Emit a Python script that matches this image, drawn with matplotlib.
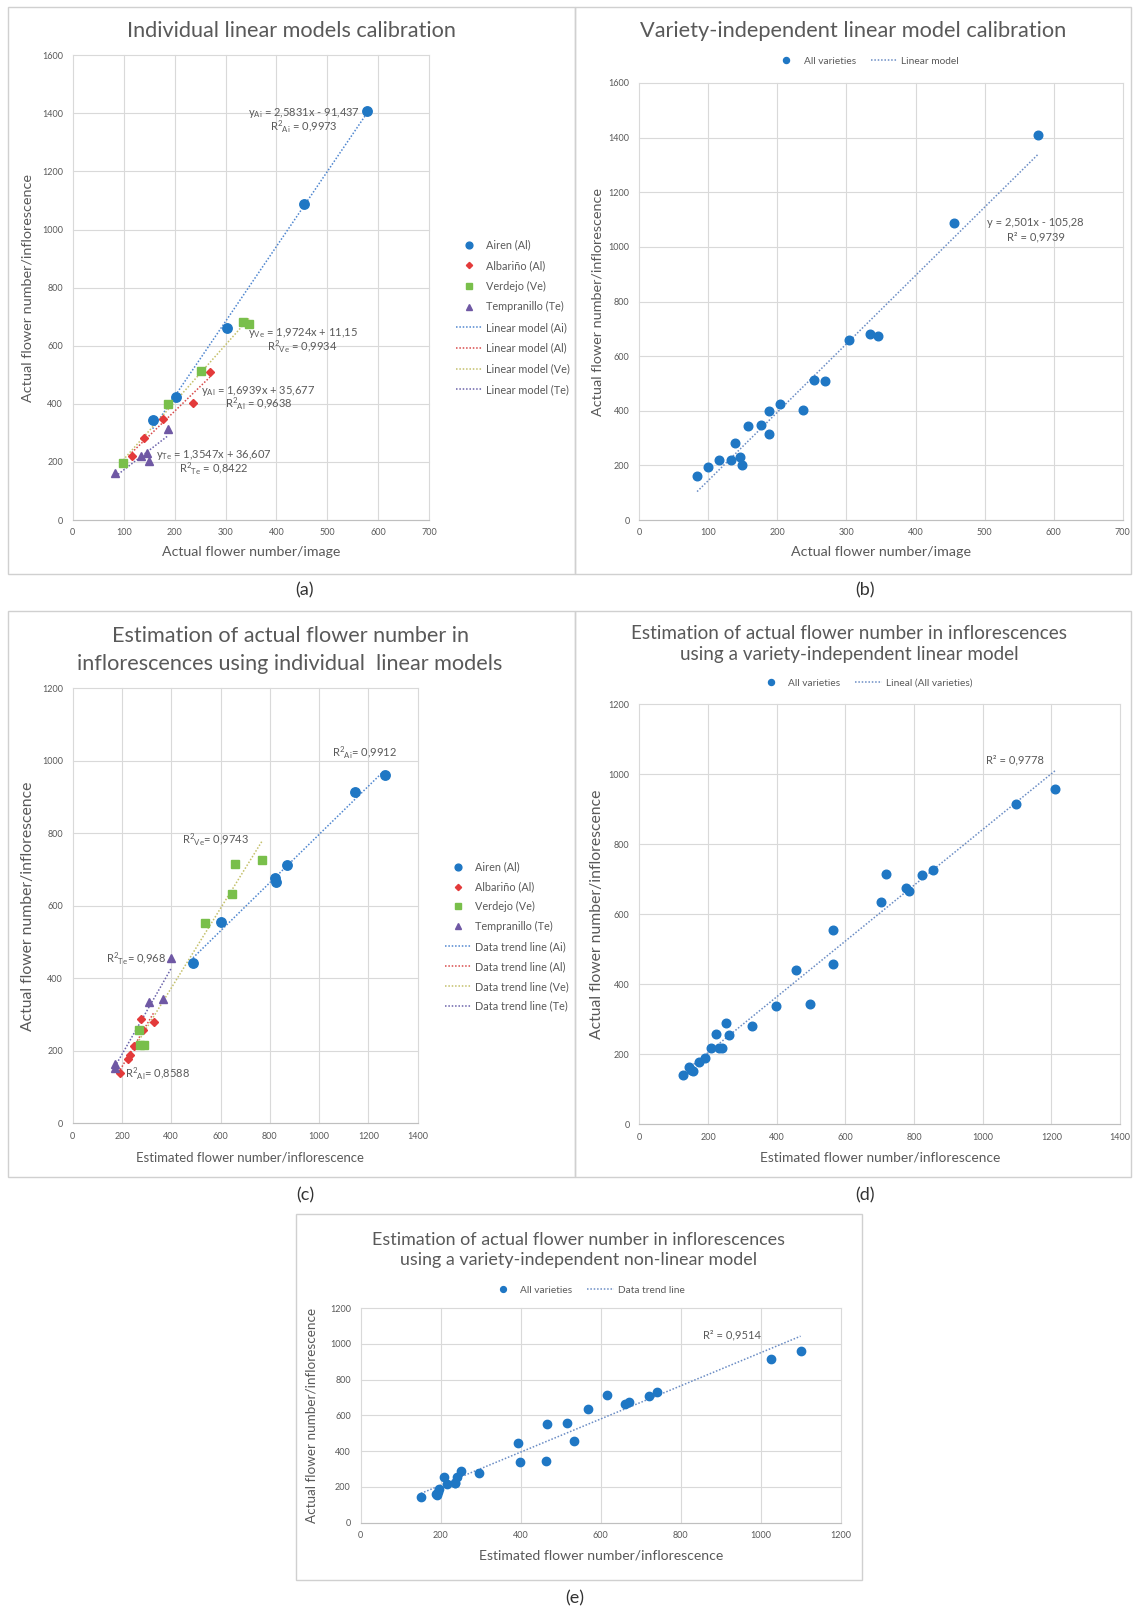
import numpy as np
import matplotlib
matplotlib.use('Agg')
import matplotlib.pyplot as plt
from matplotlib.patches import Rectangle

plt.rcParams['font.family'] = ['Lato', 'DejaVu Sans']
plt.rcParams['mathtext.fontset'] = 'custom'
plt.rcParams['mathtext.rm'] = 'Lato'
plt.rcParams['mathtext.it'] = 'Lato:italic'
plt.rcParams['mathtext.bf'] = 'Lato:bold'

# ---------------- data: (a)/(b) calibration ----------------
cal_airen_x = [157, 203.5, 303.6, 455, 578]
cal_airen_y = [344, 423, 660, 1088, 1409]
cal_albarino_x = [115.8, 139.3, 176.6, 236.8, 269.5]
cal_albarino_y = [221.5, 283.4, 348.9, 401.7, 509.5]
cal_verdejo_x = [98.8, 187.8, 252.5, 334.3, 346]
cal_verdejo_y = [195, 399.4, 514, 681.7, 674.8]
cal_tempranillo_x = [83.7, 133.5, 145.2, 149.2, 187.8]
cal_tempranillo_y = [160.7, 221.5, 229.5, 203, 314.4]

# linear models (slope, intercept) as printed on the chart
model_airen = (2.5831, -91.437)
model_albarino = (1.6939, 35.677)
model_verdejo = (1.9724, 11.15)
model_tempranillo = (1.3547, 36.607)
model_all = (2.501, -105.28)

# ---------------- data: (c) individual models estimation ----------------
est_airen_x = [488, 601, 820, 827, 869, 1146, 1267.6]
est_airen_y = [441, 555, 676, 667, 712, 915, 960]
est_albarino_x = [193, 223, 232, 247, 277, 286.5, 328]
est_albarino_y = [138, 176.6, 188.5, 213, 287, 257.5, 278.6]
est_verdejo_x = [269, 273, 289, 538, 646, 658, 767.6]
est_verdejo_y = [256.6, 216, 216, 553.6, 633.6, 714.5, 726.4]
est_tempranillo_x = [171.6, 173, 309.5, 365, 398.6]
est_tempranillo_y = [163.7, 151.7, 334.7, 342, 455]

# ---------------- data: (d) variety-independent linear model ----------------
lin_x = [128, 145.6, 150.5, 157, 173, 190, 208, 223, 233, 241, 253, 261, 327,
         399, 457, 497, 563, 565, 704, 717.5, 777, 785.4, 824, 855, 1096, 1212]
lin_y = [141, 164.6, 155, 153, 177, 190, 217, 257, 218, 218, 288, 256, 280,
         339, 440.5, 342.5, 554, 457, 634, 714.6, 675.5, 666, 712.7, 725, 914, 957]

# ---------------- data: (e) variety-independent non-linear model ----------------
nl_x = [151, 188, 190, 193.4, 195.4, 209, 215, 235, 237, 241, 250.6, 296, 392.7,
        397.6, 462.7, 464.7, 515, 532.8, 569.3, 615, 661.5, 669.4, 720.6, 741.4, 1025, 1099]
nl_y = [141.6, 160, 154.6, 169.6, 188.2, 257, 216, 220, 223.6, 257, 288.5, 279.5, 443.5,
        337, 344.7, 551.5, 557, 458, 633.5, 715.5, 665, 674.5, 710, 728.5, 915, 959.6]

r2_est = {'Ai': '0,9912', 'Ve': '0,9743', 'Te': '0,968', 'Al': '0,8588'}

# ---------------- styling ----------------
W, H = 1134, 1609
TXT = '#595959'
GRID = '#d9d9d9'
BLUE = '#1f77c4'
RED = '#e33a3a'
GREEN = '#79bf4b'
PURPLE = '#6f58a4'
L_BLUE = '#4f86cf'
L_RED = '#d84a4a'
L_GREEN = '#c4c06a'
L_PURPLE = '#6a62aa'
DOT = (0, (1, 1.2))

fig = plt.figure(figsize=(W / 100, H / 100), dpi=100)
renderer = fig.canvas.get_renderer()


def F(x, y):
    return (x / W, 1 - y / H)


def add_ax(x0, y0, x1, y1):
    return fig.add_axes([x0 / W, 1 - y1 / H, (x1 - x0) / W, (y1 - y0) / H])


def fit(t, target, vertical=False):
    bb = t.get_window_extent(renderer)
    cur = bb.height if vertical else bb.width
    t.set_fontsize(t.get_fontsize() * target / cur)


def style(ax, xmax, xstep, ymax, ystep):
    ax.set_xlim(0, xmax)
    ax.set_ylim(0, ymax)
    ax.set_xticks(np.arange(0, xmax + 1, xstep))
    ax.set_yticks(np.arange(0, ymax + 1, ystep))
    ax.grid(True, color=GRID, lw=0.8)
    ax.set_axisbelow(True)
    for s in ['top', 'right', 'left']:
        ax.spines[s].set_visible(False)
    ax.spines['bottom'].set_color('#bfbfbf')
    ax.spines['bottom'].set_linewidth(0.8)
    ax.tick_params(axis='x', length=0, labelsize=6.5, labelcolor=TXT, pad=6)
    ax.tick_params(axis='y', length=0, labelsize=6.5, labelcolor=TXT, pad=7)
    for ln in ax.get_xgridlines() + ax.get_ygridlines():
        ln.set_clip_on(False)


def labels(ax, xl, xpos, yl, ypos, xw, yw):
    t = ax.set_xlabel(xl, color=TXT, va='center', ha='center', fontsize=10)
    ax.xaxis.set_label_coords(*F(*xpos), transform=fig.transFigure)
    fit(t, xw)
    t2 = ax.set_ylabel(yl, color=TXT, va='center', ha='center', fontsize=10)
    ax.yaxis.set_label_coords(*F(*ypos), transform=fig.transFigure)
    fit(t2, yw, vertical=True)


def title(x, y, s, width, ls=1.25):
    t = fig.text(*F(x, y), s, ha='center', va='center', color=TXT, fontsize=14,
                 linespacing=ls)
    fit(t, width)
    return t


def trend(ax, xs, model, color, label):
    xr = np.array([min(xs), max(xs)])
    ax.plot(xr, model[0] * xr + model[1], ls=DOT, lw=1.1, color=color, label=label, zorder=2)


def fitted(ax, xs, ys, color, label):
    k, b = np.polyfit(xs, ys, 1)
    trend(ax, xs, (k, b), color, label)


def r2sub(sub, val, sep=' = '):
    return r'$\mathrm{R^{2}{}_{' + sub + r'}}$' + sep + val


def ysub(sub, rest):
    return r'$\mathrm{y_{' + sub + r'}}$' + rest


# panel boxes
for (x0, y0, x1, y1) in [(8, 7, 575, 574), (575, 7, 1131, 574),
                         (8, 611, 575, 1177), (575, 611, 1131, 1177),
                         (296, 1214, 862, 1580)]:
    fig.patches.append(Rectangle(F(x0, y1), (x1 - x0) / W, (y1 - y0) / H,
                                 transform=fig.transFigure, fill=False,
                                 ec='#d0d0d0', lw=1.0))

YL = 'Actual flower number/inflorescence'
ann = dict(ha='center', va='center', color=TXT, fontsize=8)
leg_v = dict(frameon=False, fontsize=7.8, labelcolor=TXT, handlelength=2.4, handletextpad=0.3,
             borderpad=0, markerscale=0.72)
leg_h = dict(ncol=2, frameon=False, fontsize=7.3, labelcolor=TXT, handlelength=2.6,
             handletextpad=0.4, columnspacing=1.5, markerscale=0.7, borderpad=0)

# ================= (a) =================
ax = add_ax(72.7, 55.2, 429.3, 520)
style(ax, 700, 100, 1600, 200)
ax.plot(cal_airen_x, cal_airen_y, 'o', ms=6.8, color=BLUE, label='Airen (Al)', zorder=3)
ax.plot(cal_albarino_x, cal_albarino_y, 'D', ms=4.4, color=RED, label='Albariño (Al)', zorder=3)
ax.plot(cal_verdejo_x, cal_verdejo_y, 's', ms=5.8, color=GREEN, label='Verdejo (Ve)', zorder=3)
ax.plot(cal_tempranillo_x, cal_tempranillo_y, '^', ms=6.2, color=PURPLE, label='Tempranillo (Te)', zorder=3)
trend(ax, cal_airen_x, model_airen, L_BLUE, 'Linear model (Ai)')
trend(ax, cal_albarino_x, model_albarino, L_RED, 'Linear model (Al)')
trend(ax, cal_verdejo_x, model_verdejo, L_GREEN, 'Linear model (Ve)')
trend(ax, cal_tempranillo_x, model_tempranillo, L_PURPLE, 'Linear model (Te)')
ax.text(454, 1402, ysub('Ai', ' = 2,5831x - 91,437'), **ann)
ax.text(453, 1352, r2sub('Ai', '0,9973'), **ann)
ax.text(451, 645, ysub('Ve', ' = 1,9724x + 11,15'), **ann)
ax.text(451, 597, r2sub('Ve', '0,9934'), **ann)
ax.text(364, 445, ysub('Al', ' = 1,6939x + 35,677'), **ann)
ax.text(365, 398, r2sub('Al', '0,9638'), **ann)
ax.text(277, 224, ysub('Te', ' = 1,3547x + 36,607'), **ann)
ax.text(277, 177, r2sub('Te', '0,8422'), **ann)
ax.legend(loc='upper left', bbox_to_anchor=F(451, 234), bbox_transform=fig.transFigure,
          labelspacing=0.89, **leg_v)
labels(ax, 'Actual flower number/image', (251, 552), YL, (28, 288), 178, 228)
title(291, 31, 'Individual linear models calibration', 330)

# ================= (b) =================
all_x = cal_airen_x + cal_albarino_x + cal_verdejo_x + cal_tempranillo_x
all_y = cal_airen_y + cal_albarino_y + cal_verdejo_y + cal_tempranillo_y
ax = add_ax(639.3, 83, 1122.7, 520)
style(ax, 700, 100, 1600, 200)
ax.plot(all_x, all_y, 'o', ms=6.2, color=BLUE, label='All varieties', zorder=3)
trend(ax, all_x, model_all, '#6a8cc4', 'Linear model')
ax.text(573.6, 1090, 'y = 2,501x - 105,28', **ann)
ax.text(575, 1038, 'R² = 0,9739', **ann)
ax.legend(loc='center', bbox_to_anchor=F(866, 61), bbox_transform=fig.transFigure, **leg_h)
labels(ax, 'Actual flower number/image', (881, 552), YL, (597, 302), 180, 228)
title(853, 31, 'Variety-independent linear model calibration', 428)

# ================= (c) =================
ax = add_ax(72.7, 688.3, 417.7, 1123.3)
style(ax, 1400, 200, 1200, 200)
ax.plot(est_airen_x, est_airen_y, 'o', ms=6.8, color=BLUE, label='Airen (Al)', zorder=3)
ax.plot(est_albarino_x, est_albarino_y, 'D', ms=4.4, color=RED, label='Albariño (Al)', zorder=3)
ax.plot(est_verdejo_x, est_verdejo_y, 's', ms=5.8, color=GREEN, label='Verdejo (Ve)', zorder=3)
ax.plot(est_tempranillo_x, est_tempranillo_y, '^', ms=6.2, color=PURPLE, label='Tempranillo (Te)', zorder=3)
fitted(ax, est_airen_x, est_airen_y, L_BLUE, 'Data trend line (Ai)')
fitted(ax, est_albarino_x, est_albarino_y, L_RED, 'Data trend line (Al)')
fitted(ax, est_verdejo_x, est_verdejo_y, L_GREEN, 'Data trend line (Ve)')
fitted(ax, est_tempranillo_x, est_tempranillo_y, L_PURPLE, 'Data trend line (Te)')
ax.text(1182, 1022, r2sub('Ai', r2_est['Ai'], '= '), **ann)
ax.text(580, 782, r2sub('Ve', r2_est['Ve'], '= '), **ann)
ax.text(259, 454, r2sub('Te', r2_est['Te'], '= '), **ann)
ax.text(345, 135, r2sub('Al', r2_est['Al'], '= '), **ann)
ax.legend(loc='upper left', bbox_to_anchor=F(440, 856), bbox_transform=fig.transFigure,
          labelspacing=0.82, **leg_v)
labels(ax, 'Estimated flower number/inflorescence', (250, 1158), YL, (28, 906), 228, 250)
title(290, 650, 'Estimation of actual flower number in\ninflorescences using individual  linear models',
      427, ls=1.45)

# ================= (d) =================
ax = add_ax(639.3, 704, 1120, 1124.3)
style(ax, 1400, 200, 1200, 200)
ax.plot(lin_x, lin_y, 'o', ms=6.2, color=BLUE, label='All varieties', zorder=3)
fitted(ax, lin_x, lin_y, '#6a8cc4', 'Lineal (All varieties)')
ax.text(1095, 1040, 'R² = 0,9778', **ann)
ax.legend(loc='center', bbox_to_anchor=F(865, 683), bbox_transform=fig.transFigure, **leg_h)
labels(ax, 'Estimated flower number/inflorescence', (880, 1158), YL, (597, 914), 240, 250)
title(849, 644, 'Estimation of actual flower number in inflorescences\nusing a variety-independent linear model',
      437, ls=1.3)

# ================= (e) =================
ax = add_ax(360.5, 1308, 841, 1522.7)
style(ax, 1200, 200, 1200, 200)
ax.plot(nl_x, nl_y, 'o', ms=6, color=BLUE, label='All varieties', zorder=3)
fitted(ax, nl_x, nl_y, '#6a8cc4', 'Data trend line')
ax.text(927, 1049, 'R² = 0,9514', **ann)
ax.legend(loc='center', bbox_to_anchor=F(587, 1290), bbox_transform=fig.transFigure, **leg_h)
labels(ax, 'Estimated flower number/inflorescence', (601, 1556), YL, (312, 1415), 245, 215)
title(579, 1250, 'Estimation of actual flower number in inflorescences\nusing a variety-independent non-linear model',
      414, ls=1.3)

# panel letters
for s, (x, y) in zip(['(a)', '(b)', '(c)', '(d)', '(e)'],
                     [(305, 590), (865, 590), (305, 1195), (865, 1195), (575, 1598)]):
    fig.text(*F(x, y), s, ha='center', va='center', fontsize=13, color='#333333')

fig.savefig('out.png', dpi=100)
